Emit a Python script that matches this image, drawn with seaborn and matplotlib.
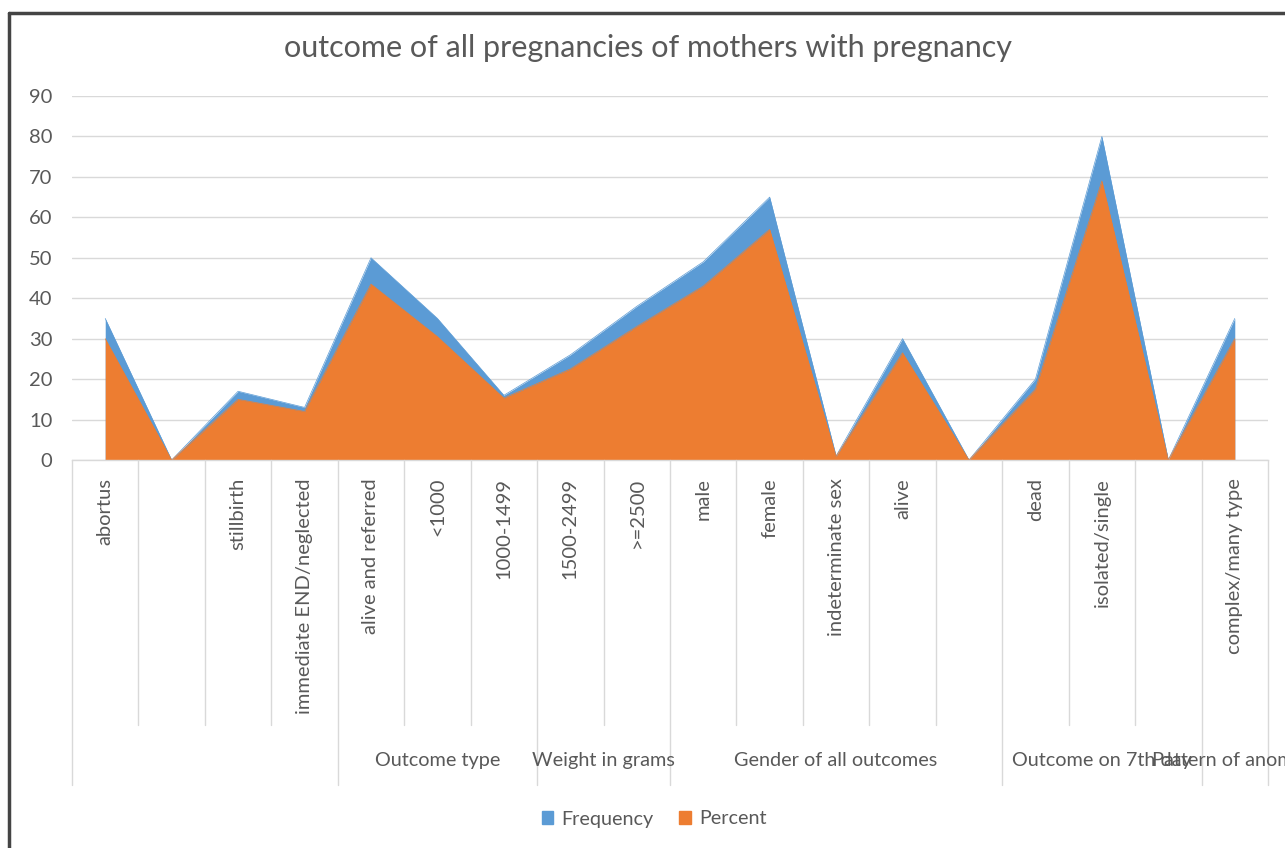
import numpy as np
import pandas as pd
import seaborn as sns
import matplotlib.pyplot as plt
from matplotlib.lines import Line2D
from matplotlib.patches import Patch

# valeurs
categories = ["abortus", "", "stillbirth", "immediate END/neglected", "alive and referred",
              "<1000", "1000-1499", "1500-2499", ">=2500", "male", "female",
              "indeterminate sex", "alive", "", "dead", "isolated/single", "", "complex/many type"]
frequency = [35, 0, 17, 13, 50, 35, 16, 26, 38, 49, 65, 1, 30, 0, 20, 80, 0, 35]
percent = [30, 0, 15, 12, 43.5, 30.5, 15.3, 22.5, 33, 43, 57, 0.9, 26.5, 0, 17.5, 69, 0, 30]
groups = ["", "Outcome type", "Weight in grams", "Gender of all outcomes",
          "Outcome on 7th day", "Pattern of anomaly"]
group_sizes = [4, 3, 2, 5, 3, 1]

df = pd.DataFrame({"cat": categories, "Frequency": frequency, "Percent": percent})
df["x"] = np.arange(len(df))

sns.set_theme(style="white")
plt.rcParams["font.family"] = ["Lato", "DejaVu Sans"]

blue = "#5b9bd5"
orange = "#ed7d31"
grey = "#595959"
line_c = "#d9d9d9"

W, H = 1285, 848
fig = plt.figure(figsize=(W / 100, H / 100), dpi=100)
left, right, top, bottom = 72, 1268, 96, 460
ax = fig.add_axes([left / W, 1 - bottom / H, (right - left) / W, (bottom - top) / H])

# séries en aires (Frequency derrière, Percent devant)
sns.lineplot(data=df, x="x", y="Frequency", color=blue, linewidth=0.5, ax=ax)
ax.fill_between(df["x"], 0, df["Frequency"], color=blue, linewidth=0)
sns.lineplot(data=df, x="x", y="Percent", color=orange, linewidth=0.5, ax=ax)
ax.fill_between(df["x"], 0, df["Percent"], color=orange, linewidth=0)

n = len(df)
ax.set_xlim(-0.5, n - 0.5)
ax.set_ylim(0, 90)
ax.set_yticks(range(0, 91, 10))
ax.yaxis.grid(True, color=line_c, linewidth=1)
ax.set_axisbelow(True)
for s in ["top", "right", "left"]:
    ax.spines[s].set_visible(False)
ax.spines["bottom"].set_color(line_c)
ax.spines["bottom"].set_linewidth(1)
ax.tick_params(axis="y", length=0, labelsize=14.5, labelcolor=grey, pad=14)
ax.set_xticks([])
ax.set_xlabel("")
ax.set_ylabel("")

# axe des catégories à deux niveaux
tr = ax.get_xaxis_transform()
h = bottom - top
y_lab = -(478 - bottom) / h
y_l1 = -(725 - bottom) / h
y_l2 = -(785 - bottom) / h
y_grp = -(760 - bottom) / h

for i, c in enumerate(categories):
    ax.text(i, y_lab, c, transform=tr, rotation=90, ha="center", va="top",
            fontsize=14.5, color=grey)

bounds = np.concatenate([[0], np.cumsum(group_sizes)]) - 0.5
for b in np.arange(-0.5, n, 1.0):
    full = np.any(np.isclose(bounds, b))
    ax.add_line(Line2D([b, b], [0, y_l2 if full else y_l1], transform=tr,
                       color=line_c, linewidth=1, clip_on=False))

for g, a, b in zip(groups, bounds[:-1], bounds[1:]):
    ax.text((a + b) / 2, y_grp, g, transform=tr, ha="center", va="center",
            fontsize=14.3, color=grey)

fig.text(648 / W, 1 - 48 / H, "outcome of all pregnancies of mothers with pregnancy",
         ha="center", va="center", fontsize=22, color=grey)

handles = [Patch(color=blue, label="Frequency"), Patch(color=orange, label="Percent")]
fig.legend(handles=handles, loc="center", bbox_to_anchor=(654 / W, 1 - 819 / H), ncol=2,
           frameon=False, handlelength=0.6, handleheight=0.6, handletextpad=0.4,
           columnspacing=1.3, fontsize=14.2, labelcolor=grey)

# cadre de la capture
fig.add_artist(Line2D([9 / W, 9 / W], [0, 1 - 13 / H], color="#444444", linewidth=2.5))
fig.add_artist(Line2D([9 / W, 1], [1 - 13 / H, 1 - 13 / H], color="#444444", linewidth=2.5))

fig.savefig("out.png", dpi=100)
